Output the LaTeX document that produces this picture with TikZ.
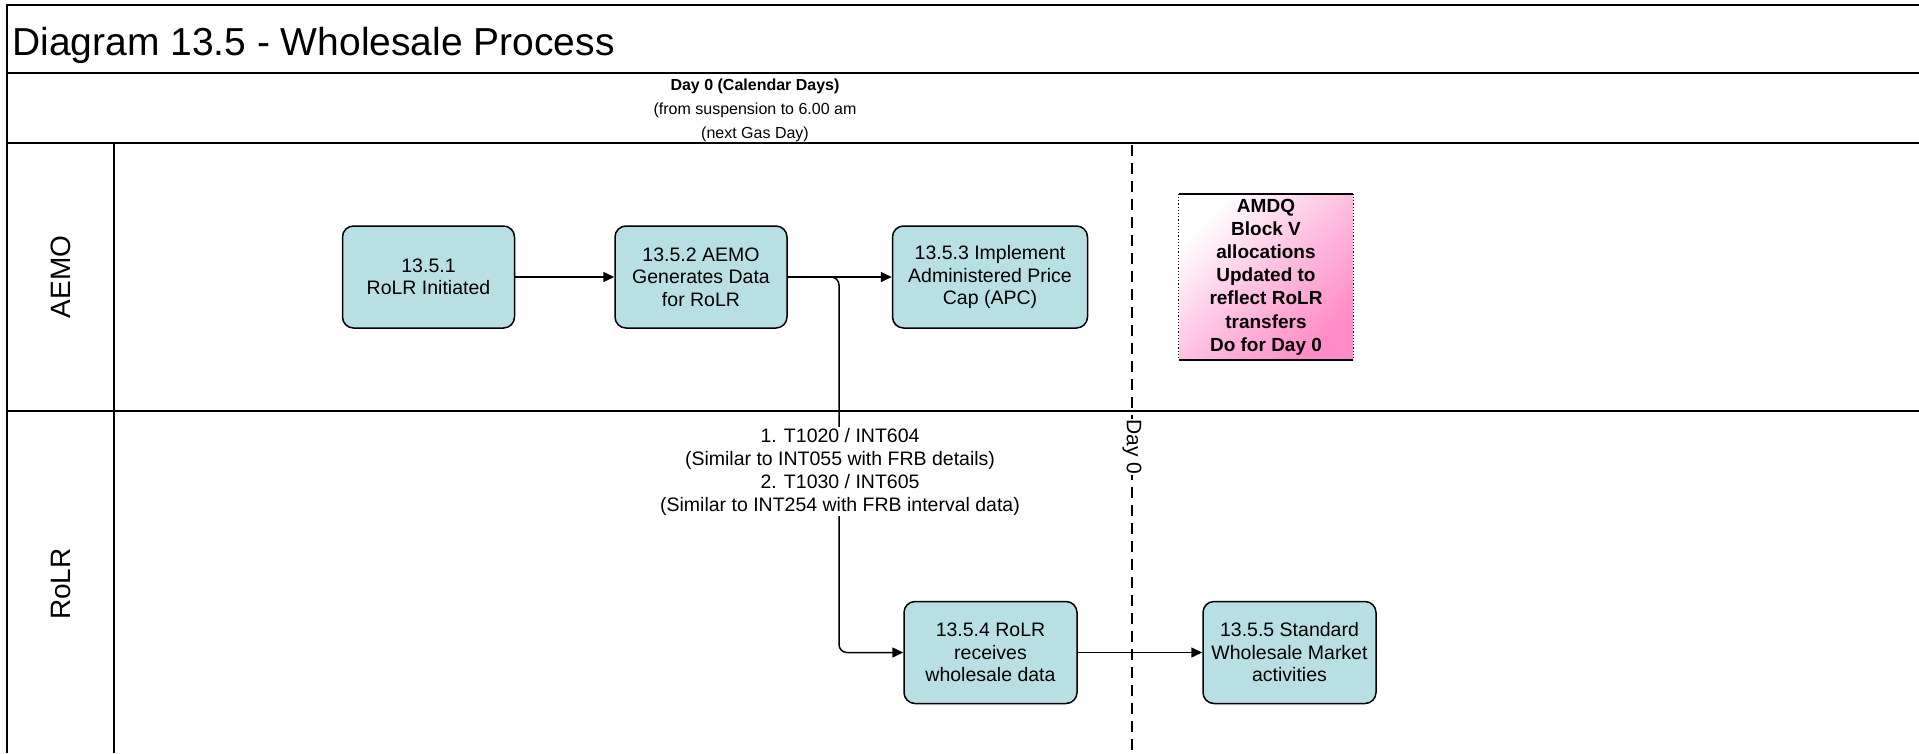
\documentclass[tikz,border=0pt]{standalone}
\usepackage{fontspec}
\setmainfont{Liberation Sans}
\usetikzlibrary{arrows.meta,shadings}
\definecolor{boxfill}{RGB}{184,224,228}
\definecolor{amdqpink}{RGB}{255,140,200}
\tikzset{
  frameline/.style={line width=2.5pt, black},
  procbox/.style={draw=black, line width=1.5pt, fill=boxfill, rounded corners=11pt,
    minimum height=102pt, align=center, inner sep=2pt,
    font=\fontsize{19.5}{22.5}\selectfont},
  conn/.style={line width=1.5pt, -{Triangle[length=11pt,width=10pt]}},
  lanelabel/.style={rotate=90, font=\fontsize{28}{32}\selectfont},
  notebox/.style={minimum width=174pt, minimum height=166pt, align=center, inner sep=0pt,
    top color=white, bottom color=amdqpink, middle color=amdqpink!55, shading angle=45,
    font=\bfseries\fontsize{19}{23.2}\selectfont},
  flowlabel/.style={fill=white, align=center, inner sep=1pt,
    font=\fontsize{19.5}{23}\selectfont},
  dayline/.style={line width=1.5pt, dash pattern=on 11pt off 7pt}
}
\begin{document}
\begin{tikzpicture}[x=1pt,y=-1pt]
\useasboundingbox (0,0) rectangle (1919,753);
\fill[white] (0,0) rectangle (1919,753);
% frame
\coordinate (tl) at (7,5);
\coordinate (tr) at (1919,5);
\coordinate (bl) at (7,753);
\draw[frameline] (bl) -- (tl) -- (tr);
\draw[frameline] (7,73) -- (1919,73);
\draw[frameline] (7,143) -- (1919,143);
\draw[frameline] (7,411) -- (1919,411);
\draw[line width=2pt] (114,143) -- (114,753);
% title and header
\node[anchor=base west, font=\fontsize{39}{44}\selectfont, inner sep=0pt] (title) at (12,55) {Diagram 13.5 - Wholesale Process};
\node[align=center, font=\fontsize{16}{24}\selectfont, inner sep=0pt] (hdr) at (755,110)
  {\textbf{Day 0 (Calendar Days)}\\(from suspension to 6.00 am\\(next Gas Day)};
% lane labels
\node[lanelabel] (laemo) at (61,277) {AEMO};
\node[lanelabel] (lrolr) at (61,584) {RoLR};
% day line
\coordinate (dtop) at (1132,145);
\coordinate (dbot) at (1132,753);
\draw[dayline] (dtop) -- (dbot);
\node[rotate=-90, fill=white, inner sep=1pt, font=\fontsize{21}{24}\selectfont] (day0) at (1132,447) {Day 0};
% process boxes
\node[procbox, minimum width=172pt] (n1) at (428.5,277) {13.5.1\\RoLR Initiated};
\node[procbox, minimum width=172pt] (n2) at (701,277) {13.5.2 AEMO\\Generates Data\\for RoLR};
\node[procbox, minimum width=195pt] (n3) at (990,277) {13.5.3 Implement\\Administered Price\\Cap (APC)};
\node[procbox, minimum width=173pt] (n4) at (990.5,652.5) {13.5.4 RoLR\\receives\\wholesale data};
\node[procbox, minimum width=173pt] (n5) at (1289.5,652.5) {13.5.5 Standard\\Wholesale Market\\activities};
% AMDQ note
\node[notebox] (amdq) at (1266,277) {AMDQ\\Block V\\allocations\\Updated to\\reflect RoLR\\transfers\\Do for Day 0};
\draw[line width=1.5pt] (amdq.north west) -- (amdq.north east);
\draw[line width=1.5pt] (amdq.south west) -- (amdq.south east);
\draw[line width=1.2pt, dotted] (amdq.north west) -- (amdq.south west);
\draw[line width=1.2pt, dotted] (amdq.north east) -- (amdq.south east);
% connectors
\draw[conn] (n1) -- (n2);
\draw[conn] (n2) -- (n3);
\coordinate (bx) at (839,460);
\draw[conn, rounded corners=8pt] (n2.east) -| (bx) |- (n4.west);
\draw[conn] (n4) -- (n5);
\node[flowlabel] (lbl) at (840,471.5) {1. T1020 / INT604\\(Similar to INT055 with FRB details)\\2. T1030 / INT605\\(Similar to INT254 with FRB interval data)};
\end{tikzpicture}
\end{document}
